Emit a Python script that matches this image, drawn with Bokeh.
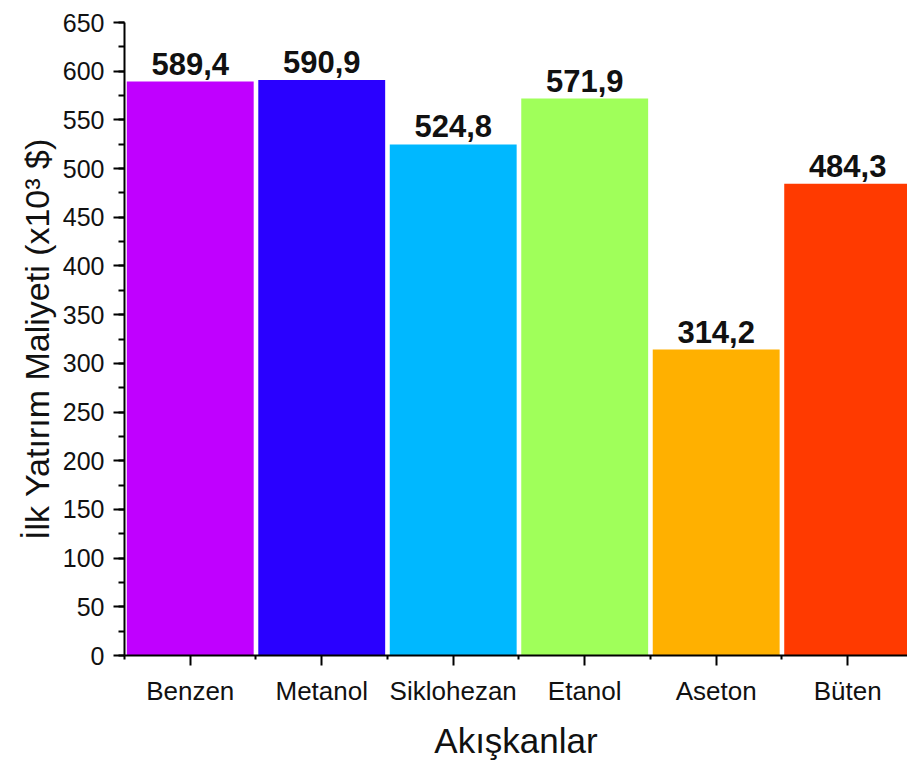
from bokeh.plotting import figure
from bokeh.models import ColumnDataSource, FixedTicker, Range1d, LabelSet
from bokeh.core.properties import value
from bokeh.embed import file_html
from bokeh.resources import INLINE

# Initial investment cost per working fluid (x10^3 $)
fluids = ["Benzen", "Metanol", "Siklohezan", "Etanol", "Aseton", "Büten"]
costs = [589.4, 590.9, 524.8, 571.9, 314.2, 484.3]
cost_labels = ["589,4", "590,9", "524,8", "571,9", "314,2", "484,3"]
colors = ["#C000FF", "#2A00FF", "#00B8FF", "#A0FF5A", "#FFB000", "#FF3A00"]
y_ticks = list(range(0, 651, 50))

positions = list(range(1, len(fluids) + 1))
source = ColumnDataSource(dict(x=positions, top=costs, label=cost_labels, color=colors))

FONT = "Liberation Sans"

p = figure(
    width=907, height=762,
    x_range=Range1d(0.5, 6.455), y_range=Range1d(0, 650),
    output_backend="svg", toolbar_location=None,
    min_border_left=124, min_border_right=0, min_border_top=22, min_border_bottom=103,
)
p.outline_line_color = None
p.grid.visible = False
p.background_fill_color = "white"
p.border_fill_color = "white"

p.vbar(x="x", top="top", width=0.965, bottom=0, fill_color="color", line_color=None, source=source)

labels = LabelSet(x="x", y="top", text="label", source=source, text_align="center",
                  text_baseline="bottom", y_offset=7, text_font=value(FONT),
                  text_font_size="31px", text_font_style="bold", text_color="#111111")
p.add_layout(labels)

# x axis: category names at bar centres, minor ticks at bar boundaries
xa = p.xaxis[0]
xa.ticker = FixedTicker(ticks=positions, minor_ticks=[i + 0.5 for i in range(0, 7)])
xa.major_label_overrides = {i: n for i, n in zip(positions, fluids)}
xa.axis_label = "Akışkanlar"

ya = p.yaxis[0]
ya.ticker = FixedTicker(ticks=y_ticks, minor_ticks=list(range(0, 651, 25)))
ya.axis_label = "İlk Yatırım Maliyeti (x10³ $)"

for ax in (xa, ya):
    ax.axis_line_width = 2
    ax.axis_line_color = "black"
    ax.major_tick_line_width = 2
    ax.minor_tick_line_width = 2
    ax.major_tick_in = 0
    ax.minor_tick_in = 0
    ax.major_label_text_font = FONT
    ax.major_label_text_color = "#111111"
    ax.axis_label_text_font = FONT
    ax.axis_label_text_font_style = "normal"
    ax.axis_label_text_color = "#111111"

xa.major_tick_out = 10
xa.minor_tick_out = 4
xa.major_label_text_font_size = "26px"
xa.major_label_standoff = 10
xa.axis_label_text_font_size = "35px"
xa.axis_label_standoff = 12

ya.major_tick_out = 11
ya.minor_tick_out = 6
ya.major_label_text_font_size = "25px"
ya.major_label_standoff = 9
ya.axis_label_text_font_size = "34px"
ya.axis_label_standoff = 4

open("out.html", "w").write(file_html(p, INLINE))
